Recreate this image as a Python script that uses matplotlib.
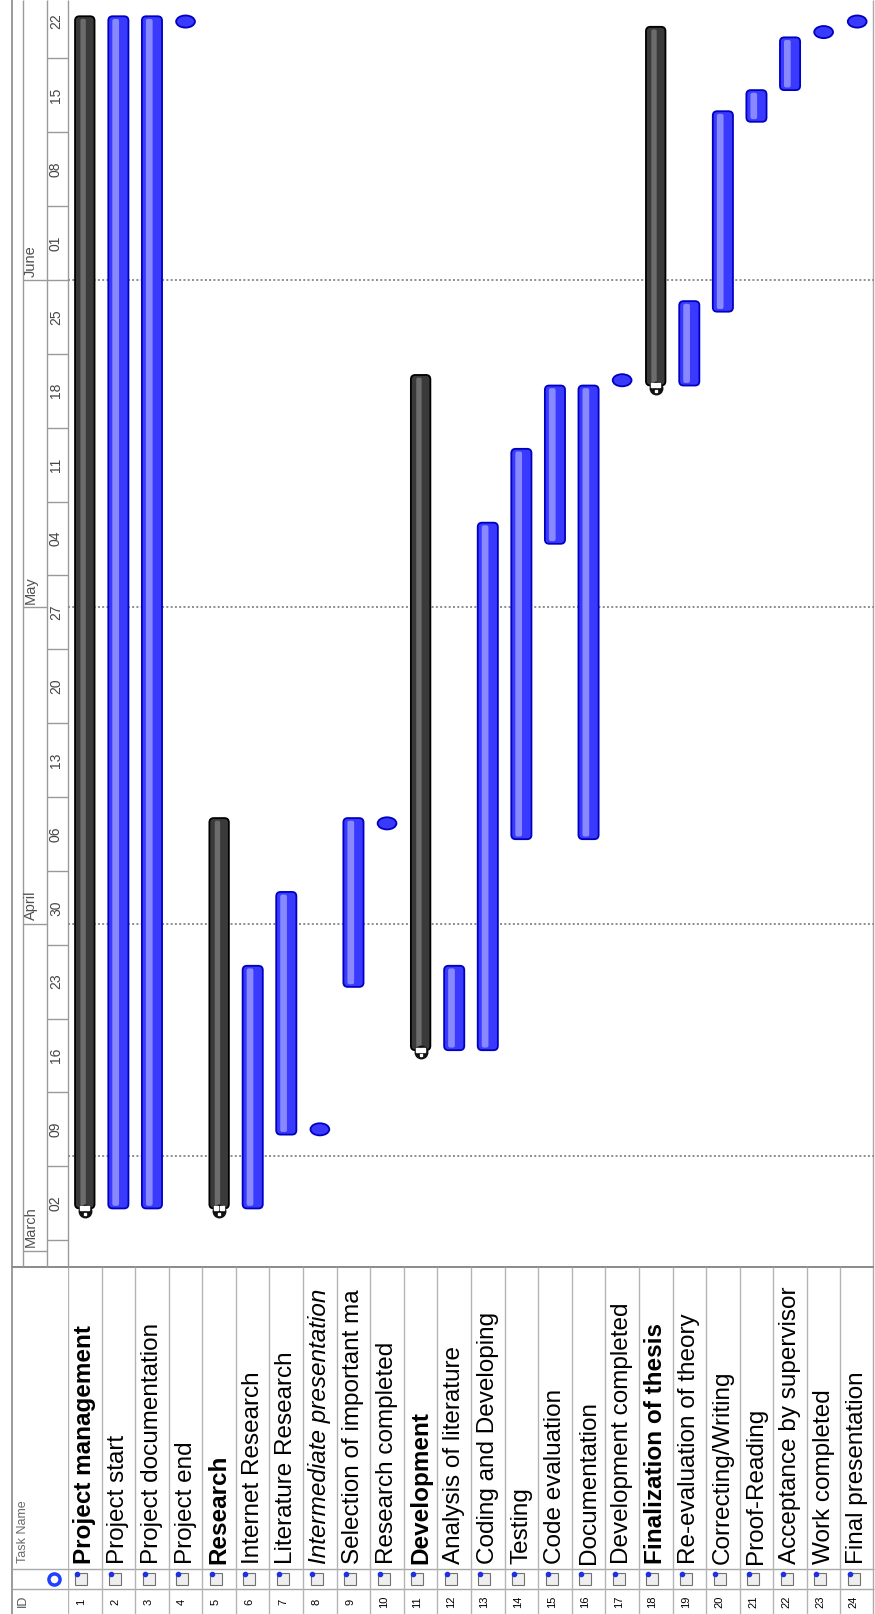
import matplotlib
matplotlib.use("Agg")
import matplotlib.pyplot as plt
import matplotlib.dates as mdates
from matplotlib.patches import Ellipse, FancyBboxPatch
import numpy as np
import pandas as pd

plt.rcParams['font.family'] = ['Liberation Sans', 'DejaVu Sans']

# ---------------- data ----------------
task_ids = list(range(1, 25))
task_names = ["Project management", "Project start", "Project documentation", "Project end",
              "Research", "Internet Research", "Literature Research", "Intermediate presentation",
              "Selection of important ma", "Research completed", "Development",
              "Analysis of literature", "Coding and Developing", "Testing", "Code evaluation",
              "Documentation", "Development completed", "Finalization of thesis",
              "Re-evaluation of theory", "Correcting/Writing", "Proof-Reading",
              "Acceptance by supervisor", "Work completed", "Final presentation"]
task_kind = ["summary", "task", "task", "milestone", "summary", "task", "task", "milestone",
             "task", "milestone", "summary", "task", "task", "task", "task", "task",
             "milestone", "summary", "task", "task", "task", "task", "milestone", "milestone"]
task_start = ["2008-03-05", "2008-03-05", "2008-03-05", "2008-06-25 12:00",
              "2008-03-05", "2008-03-05", "2008-03-12", "2008-03-12 12:00",
              "2008-03-26", "2008-04-10 12:00", "2008-03-20",
              "2008-03-20", "2008-03-20", "2008-04-09", "2008-05-07",
              "2008-04-09", "2008-05-22 12:00", "2008-05-22",
              "2008-05-22", "2008-05-29", "2008-06-16",
              "2008-06-19", "2008-06-24 12:00", "2008-06-25 12:00"]
task_end = ["2008-06-26", "2008-06-26", "2008-06-26", "2008-06-25 12:00",
            "2008-04-11", "2008-03-28", "2008-04-04", "2008-03-12 12:00",
            "2008-04-11", "2008-04-10 12:00", "2008-05-23",
            "2008-03-28", "2008-05-09", "2008-05-16", "2008-05-22",
            "2008-05-22", "2008-05-22 12:00", "2008-06-25",
            "2008-05-30", "2008-06-17", "2008-06-19",
            "2008-06-24", "2008-06-24 12:00", "2008-06-25 12:00"]

week_starts = ["2008-03-02", "2008-03-09", "2008-03-16", "2008-03-23", "2008-03-30",
               "2008-04-06", "2008-04-13", "2008-04-20", "2008-04-27", "2008-05-04",
               "2008-05-11", "2008-05-18", "2008-05-25", "2008-06-01", "2008-06-08",
               "2008-06-15", "2008-06-22"]
week_labels = ["02", "09", "16", "23", "30", "06", "13", "20", "27", "04",
               "11", "18", "25", "01", "08", "15", "22"]
month_starts = ["2008-03-01", "2008-04-01", "2008-05-01", "2008-06-01"]
month_labels = ["March", "April", "May", "June"]
grid_dates = ["2008-03-10", "2008-04-01", "2008-05-01", "2008-06-01"]
view_range = ["2008-02-28 10:48", "2008-06-27 13:00"]


def dnum(lst):
    return mdates.date2num(pd.to_datetime(lst, format='mixed'))


# ---------------- layout ----------------
W, H = 875, 1614
fig = plt.figure(figsize=(W / 100, H / 100), dpi=100)


def fr(x0, y0, x1, y1):
    return [x0 / W, 1 - y1 / H, (x1 - x0) / W, (y1 - y0) / H]


CH_BOT = 1267
XL, XR = 68, 874
L1, L2 = 1569, 1589

# full-figure overlay for frame lines / header column
fa = fig.add_axes([0, 0, 1, 1], zorder=0)
fa.set_xlim(0, W)
fa.set_ylim(H, 0)
fa.axis('off')
line_c = '#9a9a9a'
fa.vlines(12, 0, H, color='#8a8a8a', lw=1.2)
fa.vlines(XL, 0, CH_BOT, color=line_c, lw=1.0)
fa.vlines(W - 2, 0, H, color='#a8a8a8', lw=1.0)
fa.hlines(CH_BOT, 12, XR, color='#8a8a8a', lw=1.4)
fa.hlines([L1, L2], 12, XR, color='#a8a8a8', lw=1.0)
fa.text(23, 1563, "Task Name", rotation=90, ha='center', va='bottom', fontsize=9, color='#6a6a6a')
fa.text(23, 1601, "ID", rotation=90, ha='center', va='center', fontsize=9, color='#555555')
fa.plot([54], [1579], marker='o', ms=8, mfc='white', mec='#2040ff', mew=2.5)

t_lo, t_hi = dnum(view_range)

# timescale header
hx = fig.add_axes(fr(12, 0, XL, CH_BOT), zorder=1)
hx.set_xlim(12, XL)
hx.set_ylim(t_lo, t_hi)
hx.axis('off')
hx.vlines([23, 46.5], t_lo, t_hi, color=line_c, lw=1.0)
ms_num = dnum(month_starts)
ws_num = dnum(week_starts)
hx.hlines(ms_num, 23, 46.5, color=line_c, lw=1.0)
hx.hlines(ws_num, 46.5, XL, color=line_c, lw=1.0)
for m, lab in zip(ms_num, month_labels):
    hx.text(31, m + 0.3, lab, rotation=90, ha='center', va='bottom', fontsize=10.5,
            color='#505050', clip_on=True)
for w, lab in zip(ws_num, week_labels):
    hx.text(56, w + 3.5, lab, rotation=90, ha='center', va='center', fontsize=10,
            color='#454545', clip_on=True)

# gantt area
ax = fig.add_axes(fr(XL, 0, XR, CH_BOT), zorder=2)
ax.set_xlim(0.5, 24.5)
ax.set_ylim(t_lo, t_hi)
ax.axis('off')

gd = dnum(grid_dates)
ax.hlines(gd, 0.5, 24.5, colors='#8c8c8c', linestyles=(0, (1.0, 1.2)), lw=1.4, zorder=1)

s = dnum(task_start)
e = dnum(task_end)
x = np.array(task_ids, dtype=float)
kind = np.array(task_kind)

# aspect between y (days) and x (rows) units on screen
ASPECT = ((t_hi - t_lo) / CH_BOT) / (24.0 / (XR - XL))


def round_bars(container, fc, ec, lw, z, rsize=0.13):
    for r in container.patches:
        r.set_visible(False)
        fb = FancyBboxPatch((r.get_x(), r.get_y()), r.get_width(), r.get_height(),
                            boxstyle=f"round,pad=0,rounding_size={rsize}",
                            mutation_aspect=ASPECT, fc=fc, ec=ec, lw=lw, zorder=z)
        ax.add_patch(fb)


mt = kind == "task"
bc = ax.bar(x[mt], e[mt] - s[mt], bottom=s[mt], width=0.6)
round_bars(bc, '#3a3aff', '#0000c0', 1.3, 3)
bh = ax.bar(x[mt] - 0.08, e[mt] - s[mt] - 0.5, bottom=s[mt] + 0.25, width=0.2)
round_bars(bh, '#8888ff', 'none', 0, 4, 0.06)

msu = kind == "summary"
bs = ax.bar(x[msu], e[msu] - s[msu], bottom=s[msu], width=0.58)
round_bars(bs, '#3a3a3a', '#000000', 1.3, 3)
bsh = ax.bar(x[msu] - 0.05, e[msu] - s[msu] - 0.5, bottom=s[msu] + 0.25, width=0.16)
round_bars(bsh, '#6c6c6c', 'none', 0, 4, 0.05)
ax.plot(x[msu], s[msu] - 0.2, 'o', ms=9, color='#111111', zorder=5)
ax.plot(x[msu] - 0.08, s[msu] + 0.05, 's', ms=2.2, color='white', zorder=6)
ax.plot(x[msu] + 0.08, s[msu] + 0.05, 's', ms=2.2, color='white', zorder=6)
ax.plot(x[msu], s[msu] - 0.5, 's', ms=2.0, color='white', zorder=6)

mm = kind == "milestone"
for xi, si in zip(x[mm], s[mm]):
    ax.add_patch(Ellipse((xi, si), 0.56, 1.15, fc='#3a3aff', ec='#0000c0', lw=1.3, zorder=4))

# table
tx = fig.add_axes(fr(XL, CH_BOT, XR, H), zorder=1)
tx.set_xlim(0.5, 24.5)
tx.set_ylim(H, CH_BOT)
tx.axis('off')
tx.vlines(np.arange(0.5, 25.5, 1.0), CH_BOT, H, color='#b4b4b4', lw=1.0)
for tid, name, k in zip(task_ids, task_names, task_kind):
    weight = 'bold' if k == "summary" else 'normal'
    style = 'italic' if name.startswith("Intermediate") else 'normal'
    tx.text(tid, 1564, name, rotation=90, ha='center', va='bottom', fontsize=17.5,
            fontweight=weight, fontstyle=style, color='black', clip_on=True)
    tx.text(tid - 0.1, 1602, str(tid), rotation=90, ha='center', va='center',
            fontsize=8, color='black')
tx.plot(x - 0.1, np.full(len(x), 1579.0), 's', ms=8, mfc='#eeeeee', mec='#707070', mew=0.8)
tx.plot(x - 0.22, np.full(len(x), 1574.0), 'o', ms=3, color='#2030e0')

fig.savefig("out.png", dpi=100, facecolor='white')
